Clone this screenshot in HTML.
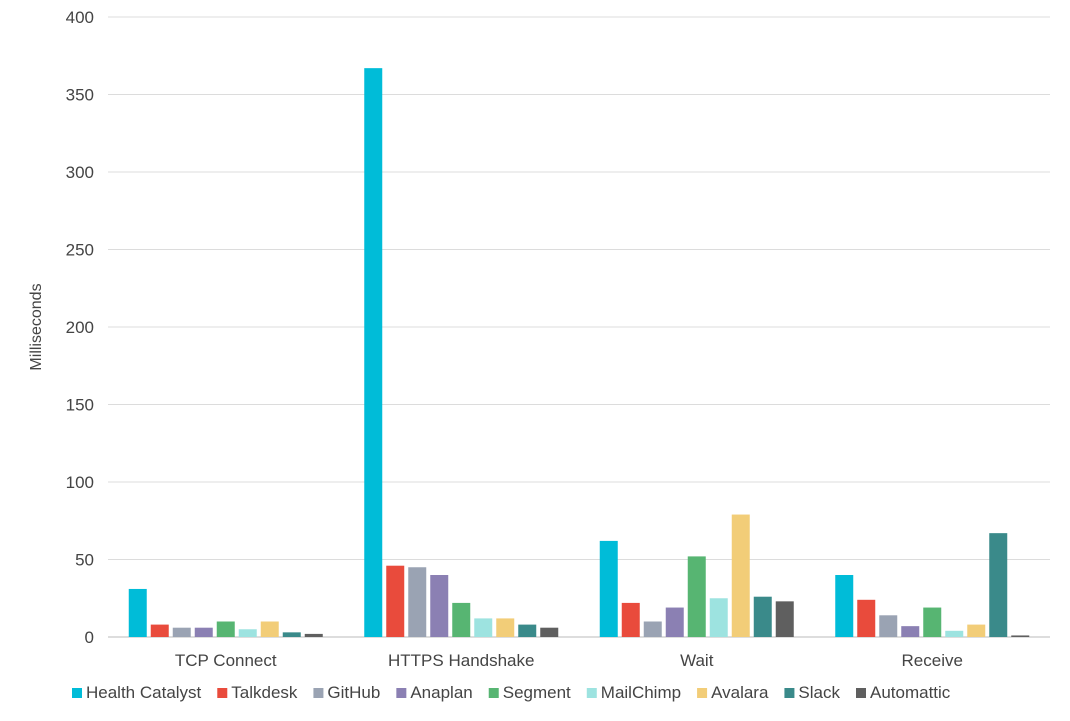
<!DOCTYPE html>
<html><head><meta charset="utf-8"><style>
body{margin:0;background:#fff;font-family:"Liberation Sans",sans-serif;}
svg text{font-family:"Liberation Sans",sans-serif;fill:#444;}
</style></head><body>
<svg id="chart" width="1070" height="716" xmlns="http://www.w3.org/2000/svg"></svg>
<script>
const categories=["TCP Connect","HTTPS Handshake","Wait","Receive"];
const seriesNames=["Health Catalyst","Talkdesk","GitHub","Anaplan","Segment","MailChimp","Avalara","Slack","Automattic"];
const seriesColors=["#00bcd8","#e94b3c","#9aa3b3","#8b80b3","#57b572","#9de3e0","#f2cd78","#3a8a8a","#5f5f5f"];
const healthCatalyst=[31,367,62,40];
const talkdesk=[8,46,22,24];
const github=[6,45,10,14];
const anaplan=[6,40,19,7];
const segment=[10,22,52,19];
const mailchimp=[5,12,25,4];
const avalara=[10,12,79,8];
const slack=[3,8,26,67];
const automattic=[2,6,23,1];
const seriesValues=[healthCatalyst,talkdesk,github,anaplan,segment,mailchimp,avalara,slack,automattic];
const yTicks=[0,50,100,150,200,250,300,350,400];

const NS="http://www.w3.org/2000/svg";
const svg=document.getElementById('chart');
const x0=108,x1=1050,y0=637,y1=17,yMax=400;
const yScale=v=>y0-(v/yMax)*(y0-y1);
const groupW=(x1-x0)/categories.length;
const barW=18,barStep=22;
function mk(t,a){const e=document.createElementNS(NS,t);for(const k in a)e.setAttribute(k,a[k]);svg.appendChild(e);return e;}
yTicks.forEach(t=>{
  const l=mk('line',{x1:x0,x2:x1,y1:yScale(t),y2:yScale(t),stroke:t===0?'#bbb':'#dcdcdc','stroke-width':1});
  
  
  const tx=mk('text',{x:94,y:yScale(t)+6,'text-anchor':'end','font-size':17});
  tx.textContent=t;
  
  
});
const yt=mk('text',{transform:'translate(41,327) rotate(-90)','text-anchor':'middle','font-size':16});
yt.textContent='Milliseconds';


categories.forEach((c,ci)=>{
  const gx=x0+ci*groupW;
  const start=gx+(groupW-(seriesNames.length*barStep-4))/2;
  seriesValues.forEach((arr,si)=>{
    const v=arr[ci];
    const r=mk('rect',{x:start+si*barStep,y:yScale(v),width:barW,height:y0-yScale(v),fill:seriesColors[si]});
    
    
  });
  const t=mk('text',{x:gx+groupW/2,y:666,'text-anchor':'middle','font-size':17});
  t.textContent=c;
  
  
});
let lx=72;
seriesNames.forEach((n,i)=>{
  const r=mk('rect',{x:lx,y:688,width:10,height:10,fill:seriesColors[i]});
  
  
  const t=mk('text',{x:lx+14,y:698,'font-size':17});
  t.textContent=n;
  
  
  lx+=14+t.getComputedTextLength()+16;
});
</script>
</body></html>
